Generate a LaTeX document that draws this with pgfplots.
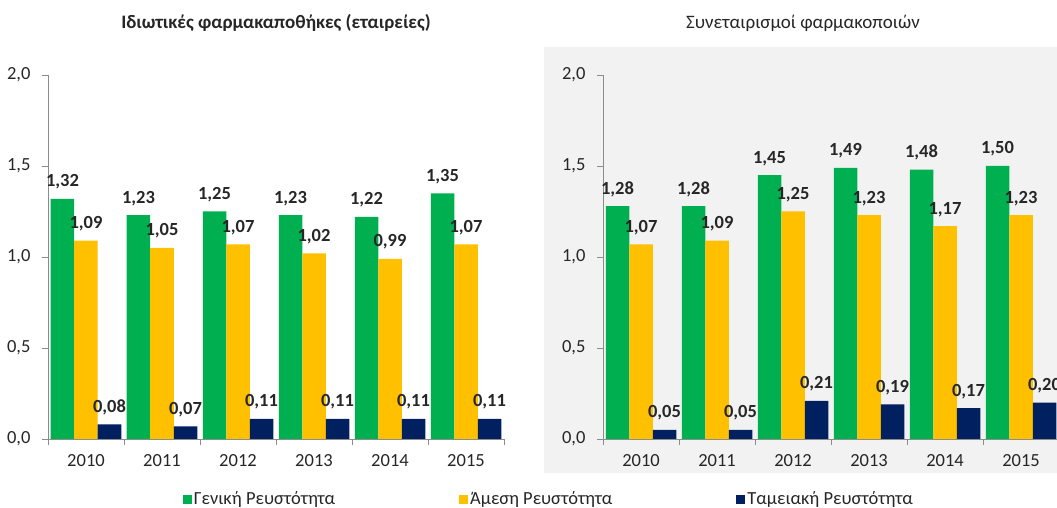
\documentclass[border=0pt]{standalone}
\usepackage{fontspec}
\setmainfont{Carlito}
\usepackage{pgfplots}
\pgfplotsset{compat=1.18}
\definecolor{cgreen}{HTML}{00B050}
\definecolor{cyellow}{HTML}{FFC000}
\definecolor{cnavy}{HTML}{002060}
\definecolor{cbg}{HTML}{F2F2F2}
\definecolor{caxis}{HTML}{8C8C8C}
\definecolor{ctext}{HTML}{262626}
\newcommand{\fs}{\fontsize{18.5}{22}\selectfont}
\pgfplotsset{
  mybars/.style={
    scale only axis, width=456pt, height=364pt,
    ybar=0pt, bar width=23.5pt,
    xmin=-0.5, xmax=5.5, ymin=0, ymax=2,
    axis x line=bottom, axis y line=left,
    axis line style={-, draw=caxis, line width=0.8pt},
    tick align=outside,
    xtick={0,1,2,3,4,5},
    xticklabels={2010,2011,2012,2013,2014,2015},
    minor xtick={-0.5,0.5,1.5,2.5,3.5,4.5,5.5},
    major x tick style={draw=none},
    minor x tick style={draw=caxis, line width=0.8pt},
    minor tick length=6pt,
    ytick={0,0.5,1,1.5,2},
    major y tick style={draw=caxis, line width=0.8pt},
    major tick length=6pt,
    yticklabel style={font=\fs, text=ctext, xshift=-8pt},
    xticklabel style={font=\fs, text=ctext, yshift=-6pt},
    /pgf/number format/.cd, use comma, fixed, fixed zerofill, precision=1, assume math mode=true,
    /pgfplots/.cd,
    nodes near coords={\pgfmathprintnumber[fixed,fixed zerofill,precision=2,use comma,assume math mode=true]{\pgfplotspointmeta}},
    every node near coord/.append style={font=\fs\bfseries, text=ctext, anchor=base, yshift=12pt, inner sep=0pt},
    clip=false,
  },
}
\begin{document}
\begin{tikzpicture}[x=1pt,y=1pt]
\clip (0,0) rectangle (1057,508);
\fill[cbg] (544,35) rectangle (1080,461);
\node[font=\fontsize{19}{22}\selectfont\bfseries, text=ctext] at (276,485) {Ιδιωτικές φαρμακαποθήκες (εταιρείες)};
\node[font=\fontsize{19}{22}\selectfont, text=ctext] at (803,485) {Συνεταιρισμοί φαρμακοποιών};
\begin{axis}[mybars, at={(48pt,69pt)}, anchor=south west,
  legend columns=3,
  legend style={at={(rel axis cs:0.289,-0.165)}, anchor=west, draw=none, fill=none, font=\fs, text=ctext,
    /tikz/every even column/.append style={column sep=122pt},
    nodes={inner sep=2pt}},
  legend image code/.code={\fill[#1] (0pt,-4.5pt) rectangle (9pt,4.5pt);},
]
\addplot[fill=cgreen, draw=none] coordinates {(0,1.32) (1,1.23) (2,1.25) (3,1.23) (4,1.22) (5,1.35)};
\addplot[fill=cyellow, draw=none] coordinates {(0,1.09) (1,1.05) (2,1.07) (3,1.02) (4,0.99) (5,1.07)};
\addplot[fill=cnavy, draw=none] coordinates {(0,0.08) (1,0.07) (2,0.11) (3,0.11) (4,0.11) (5,0.11)};
\legend{Γενική Ρευστότητα, Άμεση Ρευστότητα, Ταμειακή Ρευστότητα}
\end{axis}
\begin{axis}[mybars, at={(603pt,69pt)}, anchor=south west]
\addplot[fill=cgreen, draw=none] coordinates {(0,1.28) (1,1.28) (2,1.45) (3,1.49) (4,1.48) (5,1.50)};
\addplot[fill=cyellow, draw=none] coordinates {(0,1.07) (1,1.09) (2,1.25) (3,1.23) (4,1.17) (5,1.23)};
\addplot[fill=cnavy, draw=none] coordinates {(0,0.05) (1,0.05) (2,0.21) (3,0.19) (4,0.17) (5,0.20)};
\end{axis}
\end{tikzpicture}
\end{document}
